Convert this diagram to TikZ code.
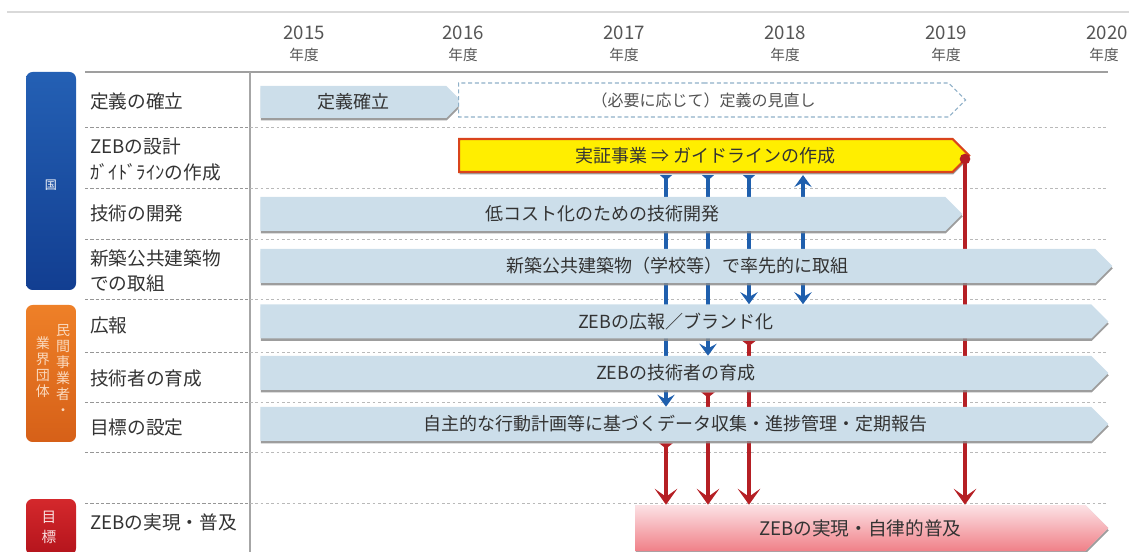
\documentclass[tikz,border=0pt]{standalone}
\usepackage{fontspec}
\setmainfont{Noto Sans CJK JP}
\usetikzlibrary{shapes.symbols,shadows,arrows.meta,calc}
\definecolor{barblue}{RGB}{204,222,234}
\definecolor{txt}{RGB}{51,51,51}
\definecolor{yeartxt}{RGB}{85,85,85}
\definecolor{zblue}{RGB}{31,95,173}
\definecolor{zred}{RGB}{181,31,36}
\definecolor{ylw}{RGB}{255,238,0}
\definecolor{ylwedge}{RGB}{217,68,28}
\definecolor{dashedge}{RGB}{143,176,200}
\definecolor{gridc}{RGB}{150,150,150}
\definecolor{gridl}{RGB}{185,185,185}
\definecolor{pinktop}{RGB}{252,226,229}
\definecolor{pinkbot}{RGB}{240,128,136}
\definecolor{kunitop}{RGB}{36,96,180}
\definecolor{kunibot}{RGB}{18,62,145}
\definecolor{mintop}{RGB}{238,128,40}
\definecolor{minbot}{RGB}{214,96,24}
\definecolor{goaltop}{RGB}{212,40,44}
\definecolor{goalbot}{RGB}{180,20,28}
\pgfdeclarelayer{bg}
\pgfdeclarelayer{arr}
\pgfsetlayers{bg,arr,main}
\tikzset{
  x=0.75pt, y=-0.75pt,
  bar/.style={signal, signal to=east, signal pointer angle=90, fill=barblue,
    draw=none, anchor=west, inner sep=0pt, text=txt,
    font=\fontsize{13.5}{16}\selectfont, minimum height=25.5pt,
    drop shadow={shadow xshift=0.4pt, shadow yshift=-1.8pt, fill=black!45, opacity=0.85}},
  rowlabel/.style={anchor=west, inner sep=0pt, text=txt, font=\fontsize{14}{16}\selectfont},
  yearnum/.style={inner sep=0pt, text=yeartxt, font=\fontsize{14}{16}\selectfont},
  yearsub/.style={inner sep=0pt, text=yeartxt, font=\fontsize{11}{13}\selectfont},
  sidebox/.style={rounded corners=5pt, minimum width=37.5pt, inner sep=0pt},
  gridleft/.style={draw=gridc, line width=0.7pt, dash pattern=on 2.5pt off 1.5pt},
  gridright/.style={draw=gridl, line width=0.7pt, dash pattern=on 2pt off 2pt},
  btip/.style={},
  barrow/.style={draw=zblue, line width=2.5pt,
    {Triangle[reversed,width=9pt,length=4pt]}-{Stealth[length=9pt,width=13pt,inset=3.5pt]}},
  bdouble/.style={draw=zblue, line width=2.5pt,
    {Stealth[length=9pt,width=13pt,inset=3.5pt]}-{Stealth[length=9pt,width=13pt,inset=3.5pt]}},
  rarrow/.style={draw=zred, line width=2.8pt,
    {Triangle[reversed,width=10pt,length=4pt]}-{Stealth[length=12pt,width=17pt,inset=6pt]}},
  rarrowdot/.style={draw=zred, line width=2.8pt, -{Stealth[length=12pt,width=17pt,inset=6pt]}},
}
\begin{document}
\begin{tikzpicture}
\useasboundingbox (0,0) rectangle (1129,552);

% ---- background grid ----
\begin{pgfonlayer}{bg}
  \draw[gray!30, line width=0.8pt] (7,12) -- (1129,12);
  \draw[gray!75, line width=1.5pt] (85,72) -- (1108,72);
  \draw[gray!70, line width=1.5pt] (250,72) -- (250,552);
  \foreach \yy in {127,188,239,299,352,402,452,503}{
    \draw[gridleft] (85,\yy) -- (250,\yy);
    \draw[gridright] (250,\yy) -- (1107,\yy);
  }
\end{pgfonlayer}

% ---- year headers ----
\node[yearnum] (y15) at (304,33) {2015};
\node[yearsub] (y15s) at (304,55) {年度};
\node[yearnum] (y16) at (463,33) {2016};
\node[yearsub] (y16s) at (463,55) {年度};
\node[yearnum] (y17) at (624,33) {2017};
\node[yearsub] (y17s) at (624,55) {年度};
\node[yearnum] (y18) at (785,33) {2018};
\node[yearsub] (y18s) at (785,55) {年度};
\node[yearnum] (y19) at (946,33) {2019};
\node[yearsub] (y19s) at (946,55) {年度};
\node[yearnum] (y20) at (1107,33) {2020};
\node[yearsub] (y20s) at (1104,55) {年度};

% ---- side boxes ----
\node[sidebox, minimum height=163.5pt, top color=kunitop, bottom color=kunibot] (kuni) at (51,181) {};
\node[inner sep=0pt, text=white, font=\fontsize{9}{10}\selectfont] (kunit) at (51,185) {国};
\node[sidebox, minimum height=102.75pt, top color=mintop, bottom color=minbot] (min) at (51,373.5) {};
\node[inner sep=0pt, align=center, text=white!70!mintop, font=\fontsize{10.5}{12}\selectfont] (minr) at (63,370) {民\\間\\事\\業\\者\\・};
\node[inner sep=0pt, align=center, text=white!70!mintop, font=\fontsize{10.5}{12}\selectfont] (minl) at (43,367) {業\\界\\団\\体};
\node[sidebox, minimum height=42pt, top color=goaltop, bottom color=goalbot] (goalbox) at (51,527) {};
\node[inner sep=0pt, align=center, text=white!85!goaltop, font=\fontsize{11}{15}\selectfont] (goalt) at (49,527) {目\\標};

% ---- row labels ----
\node[rowlabel] (l1) at (90,101) {定義の確立};
\node[rowlabel] (l2a) at (90,146) {ZEBの設計};
\node[rowlabel] (l2b) at (90,172) {ｶﾞｲﾄﾞﾗｲﾝの作成};
\node[rowlabel] (l3) at (90,213) {技術の開発};
\node[rowlabel] (l4a) at (90,258) {新築公共建築物};
\node[rowlabel] (l4b) at (90,283) {での取組};
\node[rowlabel] (l5) at (90,325) {広報};
\node[rowlabel] (l6) at (90,378) {技術者の育成};
\node[rowlabel] (l7) at (90,427) {目標の設定};
\node[rowlabel] (l8) at (90,522) {ZEBの実現・普及};

% ---- bars ----
\node[bar, minimum width=151.5pt, minimum height=24pt] (teigi) at (260,102) {定義確立};
\node[signal, signal to=east, signal pointer angle=90, anchor=west, inner sep=0pt,
      minimum width=380.25pt, minimum height=25.5pt, fill=white, draw=dashedge,
      line width=0.8pt, dash pattern=on 3pt off 2pt, text=txt!85,
      font=\fontsize{12}{14}\selectfont] (minaoshi) at (458,100) {（必要に応じて）定義の見直し};
\node[bar, fill=ylw, draw=ylwedge, line width=1.6pt, minimum width=382.5pt,
      minimum height=24.75pt] (guide) at (458,155.5) {実証事業 ⇒ ガイドラインの作成};
\node[bar, minimum width=526.5pt] (tech) at (260,214) {低コスト化のための技術開発};
\node[bar, minimum width=639pt] (public) at (260,266) {新築公共建築物（学校等）で率先的に取組};
\node[bar, minimum width=636pt] (pr) at (260,321.5) {ZEBの広報／ブランド化};
\node[bar, minimum width=636pt] (eng) at (260,373) {ZEBの技術者の育成};
\node[bar, minimum width=636pt] (target) at (260,424) {自主的な行動計画等に基づくデータ収集・進捗管理・定期報告};
\node[bar, minimum width=354.75pt, minimum height=34.5pt, top color=pinktop,
      bottom color=pinkbot, font=\fontsize{14}{16}\selectfont] (real) at (635,528) {ZEBの実現・自律的普及};

\node[circle, fill=zred, minimum size=8pt, inner sep=0pt] (dot) at (965,159) {};

% ---- column coordinates ----
\coordinate (c1) at (666,0);
\coordinate (c2) at (708,0);
\coordinate (c3) at (749,0);
\coordinate (c4) at (803,0);

% ---- connectors ----
\begin{pgfonlayer}{arr}
  \draw[barrow] ($(guide.south -| c1)+(0,2)$) -- (target.north -| c1);
  \draw[barrow] ($(guide.south -| c2)+(0,2)$) -- (eng.north -| c2);
  \draw[barrow] ($(guide.south -| c3)+(0,2)$) -- (pr.north -| c3);
  \draw[bdouble] ($(guide.south -| c4)+(0,2)$) -- (pr.north -| c4);
  \draw[rarrow] ($(pr.south -| c3)+(0,2)$) -- (real.north -| c3);
  \draw[rarrow] ($(eng.south -| c2)+(0,2)$) -- (real.north -| c2);
  \draw[rarrow] ($(target.south -| c1)+(0,2)$) -- (real.north -| c1);
  \draw[rarrowdot] (dot.center) -- (real.north -| dot);
\end{pgfonlayer}
\end{tikzpicture}
\end{document}
